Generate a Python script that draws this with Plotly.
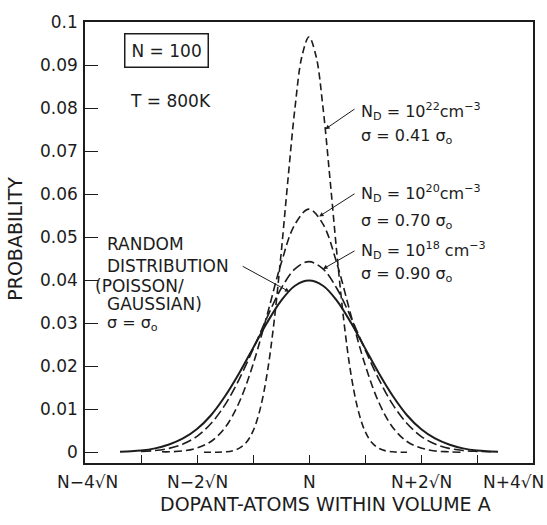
import plotly.graph_objects as go

# ---- data (x in dopant atoms, N = 100, sqrt(N) = 10) ----
x_random = [66.25, 67.5, 70, 72.5, 75, 77.5, 80, 82.5, 85, 87.5, 90, 92.5, 95, 97.5, 100,
            102.5, 105, 107.5, 110, 112.5, 115, 117.5, 120, 122.5, 125, 127.5, 130, 132.5, 133.75]
p_random = [0.0001, 0.0002, 0.0004, 0.0009, 0.0018, 0.0032, 0.0054, 0.0086, 0.0130, 0.0183,
            0.0242, 0.0301, 0.0352, 0.0387, 0.0399, 0.0387, 0.0352, 0.0301, 0.0242, 0.0183,
            0.0130, 0.0086, 0.0054, 0.0032, 0.0018, 0.0009, 0.0004, 0.0002, 0.0001]

x_nd18 = [70, 72.5, 75, 77.5, 80, 82.5, 85, 87.5, 90, 92.5, 95, 97.5, 100,
          102.5, 105, 107.5, 110, 112.5, 115, 117.5, 120, 122.5, 125, 127.5, 130, 132.5]
p_nd18 = [0.0002, 0.0004, 0.0009, 0.0019, 0.0037, 0.0067, 0.0110, 0.0169, 0.0239, 0.0313,
          0.0380, 0.0426, 0.0443, 0.0426, 0.0380, 0.0313, 0.0239, 0.0169, 0.0110, 0.0067,
          0.0037, 0.0019, 0.0009, 0.0004, 0.0002, 0.0001]

x_nd20 = [73.75, 75, 77.5, 80, 82.5, 85, 87.5, 90, 92.5, 95, 97.5, 100,
          102.5, 105, 107.5, 110, 112.5, 115, 117.5, 120, 122.5, 125, 127.5]
p_nd20 = [0.0001, 0.0001, 0.0003, 0.0010, 0.0025, 0.0057, 0.0115, 0.0204, 0.0318, 0.0438,
          0.0530, 0.0565, 0.0530, 0.0438, 0.0318, 0.0204, 0.0115, 0.0057, 0.0025, 0.0010,
          0.0003, 0.0001, 0.0000]

x_nd22 = [81.25, 82.5, 83.75, 85, 86.25, 87.5, 88.75, 90, 91.25, 92.5, 93.75, 95, 96.25,
          97.5, 98.75, 100, 101.25, 102.5, 103.75, 105, 106.25, 107.5, 108.75, 110, 111.25,
          112.5, 113.75, 115, 116.25, 117.5]
p_nd22 = [0.0000, 0.0000, 0.0000, 0.0001, 0.0003, 0.0009, 0.0022, 0.0049, 0.0099, 0.0181,
          0.0302, 0.0459, 0.0635, 0.0801, 0.0921, 0.0965, 0.0921, 0.0801, 0.0635, 0.0459,
          0.0302, 0.0181, 0.0099, 0.0049, 0.0022, 0.0009, 0.0003, 0.0001, 0.0000, 0.0000]

y_tick_vals = [0, 0.01, 0.02, 0.03, 0.04, 0.05, 0.06, 0.07, 0.08, 0.09, 0.1]
y_tick_text = ["0", "0.01", "0.02", "0.03", "0.04", "0.05", "0.06", "0.07", "0.08", "0.09", "0.1"]
x_tick_vals = [70, 80, 90, 100, 110, 120, 130]
x_label_vals = [60, 80, 100, 120, 140]
x_label_text = ["N\u22124\u221aN", "N\u22122\u221aN", "N", "N+2\u221aN", "N+4\u221aN"]

FONT = "DejaVu Sans"
INK = "#1c1c1c"

fig = go.Figure()
fig.add_trace(go.Scatter(x=x_random, y=p_random, mode="lines", line=dict(color=INK, width=2, shape="spline")))
fig.add_trace(go.Scatter(x=x_nd18, y=p_nd18, mode="lines", line=dict(color=INK, width=1.6, dash="10px,4px", shape="spline")))
fig.add_trace(go.Scatter(x=x_nd20, y=p_nd20, mode="lines", line=dict(color=INK, width=1.6, dash="8px,4px", shape="spline")))
fig.add_trace(go.Scatter(x=x_nd22, y=p_nd22, mode="lines", line=dict(color=INK, width=1.6, dash="7px,4px", shape="spline")))

ann = []
# x tick labels
x_label_shift = [2, 0, 0, 0, -20]
for v, t, s in zip(x_label_vals, x_label_text, x_label_shift):
    ann.append(dict(x=v, y=0, xref="x", yref="paper", text=t, showarrow=False, xanchor="center",
                    yanchor="top", yshift=-7, xshift=s, font=dict(family=FONT, size=17, color=INK)))
# axis titles
ann.append(dict(x=0.536, y=-0.092, xref="paper", yref="paper", text="DOPANT-ATOMS WITHIN VOLUME A",
                showarrow=False, xanchor="center", yanchor="middle", font=dict(family=FONT, size=19, color=INK)))
ann.append(dict(x=-0.158, y=0.509, xref="paper", yref="paper", text="PROBABILITY", textangle=-90,
                showarrow=False, xanchor="center", yanchor="middle", font=dict(family=FONT, size=19, color=INK)))
# box and temperature
ann.append(dict(x=74.5, y=0.0934, xref="x", yref="y", text="N = 100", showarrow=False,
                bordercolor=INK, borderwidth=1.5, borderpad=6, font=dict(family=FONT, size=17, color=INK)))
ann.append(dict(x=75.2, y=0.0816, xref="x", yref="y", text="T = 800K", showarrow=False,
                font=dict(family=FONT, size=17, color=INK)))
# curve labels
lab = [
    (108.9, 0.0791, "N<sub>D</sub> = 10<sup>22</sup>cm<sup>\u22123</sup>", 16),
    (108.9, 0.0733, "\u03c3 = 0.41 \u03c3<sub>o</sub>", 16),
    (108.9, 0.0602, "N<sub>D</sub> = 10<sup>20</sup>cm<sup>\u22123</sup>", 16),
    (108.9, 0.0536, "\u03c3 = 0.70 \u03c3<sub>o</sub>", 16),
    (108.9, 0.0469, "N<sub>D</sub> = 10<sup>18</sup> cm<sup>\u22123</sup>", 16),
    (108.9, 0.0414, "\u03c3 = 0.90 \u03c3<sub>o</sub>", 16),
    (63.5, 0.0483, "RANDOM", 17),
    (63.5, 0.0434, "DISTRIBUTION", 17),
    (61.4, 0.0386, "(POISSON/", 17),
    (63.5, 0.0344, "GAUSSIAN)", 17),
    (63.5, 0.0299, "\u03c3 = \u03c3<sub>o</sub>", 16),
]
for x, y, t, fs in lab:
    ann.append(dict(x=x, y=y, xref="x", yref="y", text=t, showarrow=False, xanchor="left",
                    yanchor="middle", font=dict(family=FONT, size=fs, color=INK)))
# leader arrows (head on curve, tail at label)
arrows = [
    (102.9, 0.0751, 108.4, 0.0800),
    (101.8, 0.0548, 108.4, 0.0603),
    (102.5, 0.0426, 108.4, 0.0470),
    (96.5, 0.0373, 87.9, 0.0434),
]
for hx, hy, tx, ty in arrows:
    ann.append(dict(x=hx, y=hy, ax=tx, ay=ty, xref="x", yref="y", axref="x", ayref="y", text="",
                    showarrow=True, arrowhead=2, arrowsize=0.9, arrowwidth=1, arrowcolor=INK))

fig.update_layout(
    width=547, height=525,
    margin=dict(l=85, r=14, t=17, b=62),
    paper_bgcolor="white", plot_bgcolor="white",
    showlegend=False,
    annotations=ann,
    font=dict(family=FONT, color=INK),
)
fig.update_xaxes(range=[60, 140], showgrid=False, zeroline=False, showline=True, mirror=True,
                 linecolor=INK, linewidth=1.5, ticks="inside", ticklen=8, tickwidth=1, tickcolor=INK,
                 tickvals=x_tick_vals, showticklabels=False)
fig.update_yaxes(range=[-0.0025, 0.1], showgrid=False, zeroline=False, showline=True, mirror=True,
                 linecolor=INK, linewidth=1.5, ticks="inside", ticklen=13, tickwidth=1, tickcolor=INK,
                 tickvals=y_tick_vals, ticktext=y_tick_text, ticklabelstandoff=2,
                 tickfont=dict(family=FONT, size=17, color=INK))

fig.write_html("out.html")
